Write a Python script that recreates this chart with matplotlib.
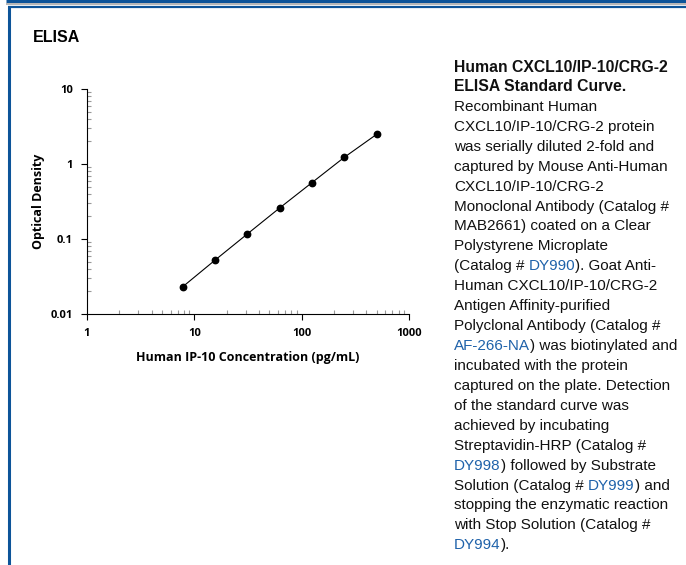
import matplotlib.pyplot as plt
from matplotlib.lines import Line2D
from matplotlib.ticker import LogLocator, FixedFormatter, FixedLocator, NullFormatter

# standard curve data (2-fold serial dilution)
concentration = [7.8, 15.6, 31.25, 62.5, 125, 250, 500]
optical_density = [0.0231, 0.0523, 0.117, 0.260, 0.566, 1.23, 2.49]

x_ticks = [1, 10, 100, 1000]
x_tick_labels = ['1', '10', '100', '1000']
y_ticks = [0.01, 0.1, 1, 10]
y_tick_labels = ['0.01', '0.1', '1', '10']

BLUE = '#0d5499'
LINK = '#1f62aa'

# caption lines: list of (text, style) segments; style b=bold, n=normal, l=link
caption = [
    [('Human CXCL10/IP-10/CRG-2', 'b')],
    [('ELISA Standard Curve.', 'b')],
    [('Recombinant Human', 'n')],
    [('CXCL10/IP-10/CRG-2 protein', 'n')],
    [('was serially diluted 2-fold and', 'n')],
    [('captured by Mouse Anti-Human', 'n')],
    [('CXCL10/IP-10/CRG-2', 'n')],
    [('Monoclonal Antibody (Catalog #', 'n')],
    [('MAB2661) coated on a Clear', 'n')],
    [('Polystyrene Microplate', 'n')],
    [('(Catalog # ', 'n'), ('DY990', 'l'), ('). Goat Anti-', 'n')],
    [('Human CXCL10/IP-10/CRG-2', 'n')],
    [('Antigen Affinity-purified', 'n')],
    [('Polyclonal Antibody (Catalog #', 'n')],
    [('AF-266-NA', 'l'), (') was biotinylated and', 'n')],
    [('incubated with the protein', 'n')],
    [('captured on the plate. Detection', 'n')],
    [('of the standard curve was', 'n')],
    [('achieved by incubating', 'n')],
    [('Streptavidin-HRP (Catalog #', 'n')],
    [('DY998', 'l'), (') followed by Substrate', 'n')],
    [('Solution (Catalog # ', 'n'), ('DY999', 'l'), (') and', 'n')],
    [('stopping the enzymatic reaction', 'n')],
    [('with Stop Solution (Catalog #', 'n')],
    [('DY994', 'l'), (').', 'n')],
]

W, H = 686, 565
fig = plt.figure(figsize=(W / 100, H / 100), dpi=100)

# page frame lines (figure pixel coords -> fraction)
def px_line(x0, y0, x1, y1, color, lw):
    fig.add_artist(Line2D([x0 / W, x1 / W], [1 - y0 / H, 1 - y1 / H],
                          color=color, linewidth=lw, transform=fig.transFigure,
                          solid_capstyle='butt'))

px_line(6, 1, W, 1, BLUE, 2.2)
px_line(6, 3.5, W, 3.5, '#a9a9a9', 1.2)
px_line(8, 7, W, 7, BLUE, 1.6)
px_line(8.5, 6, 8.5, H, BLUE, 2.2)

fig.text(33 / W, 1 - 38 / H, 'ELISA', fontsize=11.5, fontweight='bold',
         family='Liberation Sans', va='center', ha='left')

# chart
ax = fig.add_axes([87 / W, 1 - 314 / H, (409 - 87) / W, (314 - 89) / H])
ax.plot(concentration, optical_density, color='black', linewidth=0.8,
        marker='o', markersize=4.6, zorder=3)
ax.set_xscale('log')
ax.set_yscale('log')
ax.set_xlim(1, 1000)
ax.set_ylim(0.01, 10)

for s in ['top', 'right']:
    ax.spines[s].set_visible(False)
for s in ['left', 'bottom']:
    ax.spines[s].set_linewidth(0.8)

ax.xaxis.set_major_locator(FixedLocator(x_ticks))
ax.xaxis.set_major_formatter(FixedFormatter(x_tick_labels))
ax.yaxis.set_major_locator(FixedLocator(y_ticks))
ax.yaxis.set_major_formatter(FixedFormatter(y_tick_labels))
ax.xaxis.set_minor_locator(LogLocator(base=10, subs=range(2, 10)))
ax.yaxis.set_minor_locator(LogLocator(base=10, subs=range(2, 10)))
ax.xaxis.set_minor_formatter(NullFormatter())
ax.yaxis.set_minor_formatter(NullFormatter())

ax.tick_params(which='major', direction='out', length=4, width=0.8, color='black',
               labelsize=8, pad=6)
ax.tick_params(which='minor', direction='in', length=3, width=0.8, color='#999999')
for lab in ax.get_xticklabels() + ax.get_yticklabels():
    lab.set_fontweight('bold')
    lab.set_family('Open Sans')

ax.set_xlabel('Human IP-10 Concentration (pg/mL)', fontsize=9, fontweight='bold',
              family='Open Sans', labelpad=9)
ax.set_ylabel('Optical Density', fontsize=9, fontweight='bold',
              family='Open Sans', labelpad=4)

# caption text, segment by segment
renderer = fig.canvas.get_renderer()
x_start = 454
y0 = 67
line_gap = 19.93
for i, segs in enumerate(caption):
    x = x_start
    y = 1 - (y0 + i * line_gap) / H
    for txt, style in segs:
        bold = style == 'b'
        t = fig.text(x / W, y, txt, fontsize=11.3 if bold else 11.0,
                     family='Liberation Sans',
                     fontweight='bold' if bold else 'normal',
                     color=LINK if style == 'l' else '#111111',
                     va='center', ha='left')
        bb = t.get_window_extent(renderer)
        x += bb.width

fig.savefig('out.png', dpi=100)
